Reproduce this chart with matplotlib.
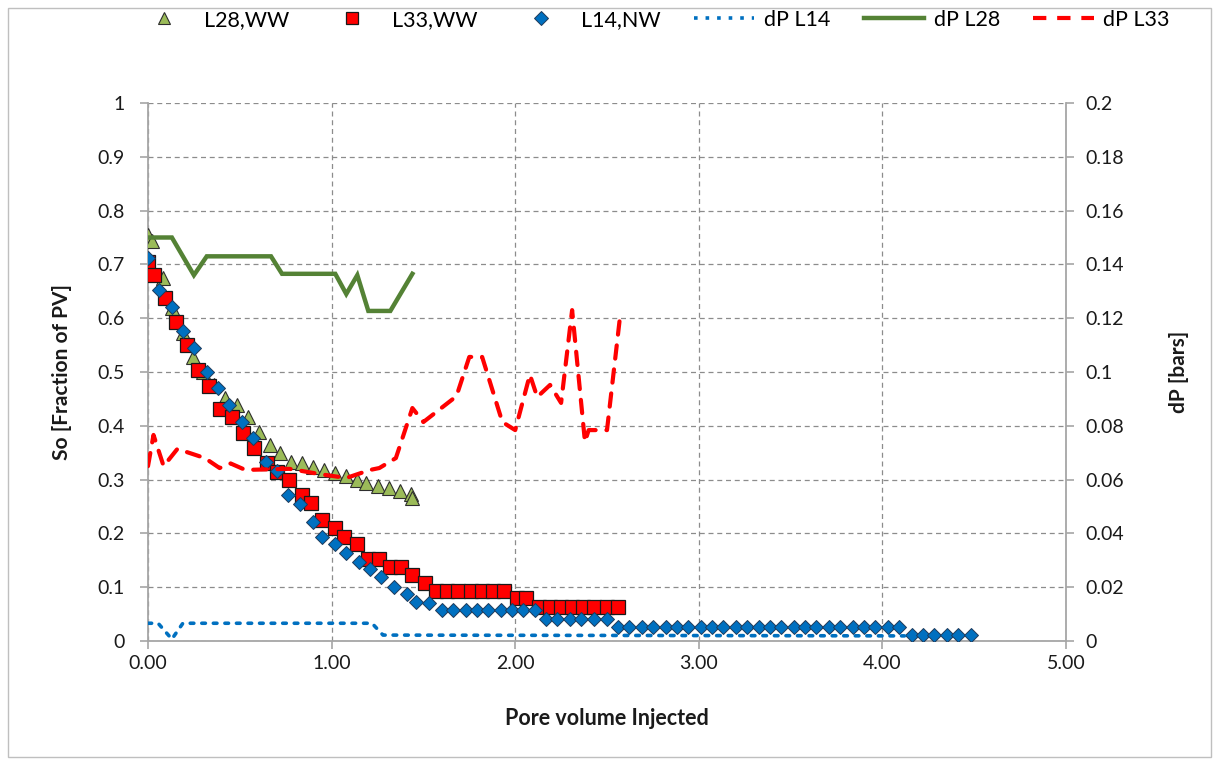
import matplotlib
matplotlib.use("Agg")
import matplotlib.pyplot as plt
from matplotlib.lines import Line2D
from matplotlib.patches import Rectangle

plt.rcParams['font.family'] = ['Lato', 'DejaVu Sans']

# ---- data ----
l28_x = [0.00, 0.02, 0.08, 0.13, 0.19, 0.245, 0.30, 0.36, 0.42, 0.485, 0.545, 0.605, 0.665,
         0.72, 0.78, 0.84, 0.90, 0.96, 1.02, 1.08, 1.14, 1.19, 1.25, 1.31, 1.37, 1.43, 1.44]
l28_y = [0.755, 0.743, 0.674, 0.619, 0.572, 0.528, 0.50, 0.475, 0.452, 0.439, 0.416, 0.388, 0.364,
         0.349, 0.333, 0.331, 0.323, 0.318, 0.312, 0.307, 0.299, 0.294, 0.288, 0.284, 0.279, 0.273, 0.266]

l33_x = [0.00, 0.03, 0.09, 0.15, 0.21, 0.27, 0.33, 0.39, 0.46, 0.52, 0.58, 0.65, 0.70, 0.77,
         0.84, 0.89, 0.95, 1.02, 1.07, 1.14, 1.20, 1.26, 1.32, 1.38, 1.44, 1.51, 1.57, 1.63,
         1.69, 1.76, 1.82, 1.88, 1.94, 2.01, 2.06, 2.13, 2.19, 2.25, 2.31, 2.37, 2.43, 2.50, 2.56]
l33_y = [0.704, 0.680, 0.638, 0.593, 0.550, 0.504, 0.474, 0.431, 0.416, 0.387, 0.359, 0.331, 0.314, 0.299,
         0.271, 0.256, 0.225, 0.210, 0.193, 0.180, 0.152, 0.152, 0.137, 0.137, 0.123, 0.108, 0.093, 0.093,
         0.093, 0.093, 0.093, 0.093, 0.093, 0.080, 0.080, 0.063, 0.063, 0.063, 0.063, 0.063, 0.063, 0.063, 0.063]

l14_x = [0.00, 0.06, 0.13, 0.19, 0.25, 0.32, 0.38, 0.44, 0.51, 0.57, 0.64, 0.70, 0.76, 0.83,
         0.90, 0.95, 1.02, 1.08, 1.15, 1.21, 1.27, 1.34, 1.41, 1.46, 1.53, 1.60,
         1.66, 1.73, 1.79, 1.85, 1.92, 1.98, 2.04, 2.11,
         2.17, 2.23, 2.30, 2.36, 2.43, 2.50,
         2.56, 2.62, 2.69, 2.75, 2.82, 2.88, 2.94, 3.01, 3.07, 3.13, 3.20, 3.26, 3.33, 3.39,
         3.45, 3.52, 3.58, 3.64, 3.71, 3.77, 3.84, 3.90, 3.96, 4.03, 4.09,
         4.16, 4.22, 4.28, 4.35, 4.41, 4.48]
l14_y = [0.712, 0.652, 0.621, 0.576, 0.545, 0.500, 0.470, 0.438, 0.407, 0.377, 0.333, 0.316, 0.271, 0.255,
         0.222, 0.193, 0.180, 0.164, 0.147, 0.134, 0.119, 0.100, 0.087, 0.073, 0.071, 0.058,
         0.058, 0.058, 0.058, 0.058, 0.058, 0.058, 0.058, 0.058,
         0.041, 0.041, 0.041, 0.041, 0.041, 0.041,
         0.026, 0.026, 0.026, 0.026, 0.026, 0.026, 0.026, 0.026, 0.026, 0.026, 0.026, 0.026, 0.026, 0.026,
         0.026, 0.026, 0.026, 0.026, 0.026, 0.026, 0.026, 0.026, 0.026, 0.026, 0.026,
         0.011, 0.011, 0.011, 0.011, 0.011, 0.011]

dp14_x = [0.00, 0.055, 0.13, 0.19, 1.22, 1.28, 4.12]
dp14_y = [0.0066, 0.0066, 0.0007, 0.0066, 0.0066, 0.0022, 0.0019]

dp28_x = [0.00, 0.13, 0.25, 0.32, 0.67, 0.73, 1.02, 1.08, 1.14, 1.20, 1.32, 1.44]
dp28_y = [0.150, 0.150, 0.136, 0.143, 0.143, 0.1365, 0.1365, 0.129, 0.136, 0.1227, 0.1227, 0.1365]

dp33_x = [0.00, 0.03, 0.085, 0.16, 0.31, 0.39, 0.45, 0.53, 0.77, 0.94, 1.08, 1.21, 1.26, 1.35,
          1.44, 1.50, 1.68, 1.75, 1.82, 1.93, 2.00, 2.08, 2.12, 2.19, 2.25, 2.31, 2.38, 2.40, 2.50, 2.57]
dp33_y = [0.065, 0.0766, 0.065, 0.0714, 0.068, 0.0643, 0.066, 0.0636, 0.064, 0.062, 0.0606, 0.0636, 0.0643, 0.068,
          0.0866, 0.0814, 0.091, 0.1056, 0.1056, 0.0814, 0.0784, 0.099, 0.0907, 0.0952, 0.0885, 0.123, 0.074, 0.0784, 0.0784, 0.120]

x_ticks = [0, 1, 2, 3, 4, 5]
x_ticklabels = ["0.00", "1.00", "2.00", "3.00", "4.00", "5.00"]
y_ticks = [0, 0.1, 0.2, 0.3, 0.4, 0.5, 0.6, 0.7, 0.8, 0.9, 1.0]
y_ticklabels = ["0", "0.1", "0.2", "0.3", "0.4", "0.5", "0.6", "0.7", "0.8", "0.9", "1"]
y2_ticks = [0, 0.02, 0.04, 0.06, 0.08, 0.10, 0.12, 0.14, 0.16, 0.18, 0.20]
y2_ticklabels = ["0", "0.02", "0.04", "0.06", "0.08", "0.1", "0.12", "0.14", "0.16", "0.18", "0.2"]

# ---- colors ----
c_tri = '#9BBB59'
c_sq = '#FF0000'
c_dia = '#0070C0'
c_green_line = '#548235'
c_red_line = '#FF0000'
c_blue_line = '#0070C0'
grid_c = '#8C8C8C'
spine_c = '#A6A6A6'

fig = plt.figure(figsize=(12.18, 7.62), dpi=100)
ax = fig.add_axes([148/1218, 1-641/762, (1066-148)/1218, (641-103)/762])
ax2 = ax.twinx()

# outer frame
fig.patches.append(Rectangle((8/1218, 5/762), 1203/1218, 749/762, transform=fig.transFigure,
                             fill=False, edgecolor='#BFBFBF', linewidth=1.0))

ax.set_xlim(0, 5)
ax.set_ylim(0, 1)
ax2.set_ylim(0, 0.2)

ax.grid(True, which='major', color=grid_c, linestyle=(0, (4, 3)), linewidth=0.9)
ax.set_axisbelow(True)

ax.plot(l28_x, l28_y, linestyle='none', marker='^', markersize=10, markerfacecolor=c_tri,
        markeredgecolor='#2E2E2E', markeredgewidth=0.8, zorder=3)
ax.plot(l33_x, l33_y, linestyle='none', marker='s', markersize=9.5, markerfacecolor=c_sq,
        markeredgecolor='#1A1A1A', markeredgewidth=0.9, zorder=4)
ax.plot(l14_x, l14_y, linestyle='none', marker='D', markersize=7.5, markerfacecolor=c_dia,
        markeredgecolor='#1F3A5A', markeredgewidth=0.7, zorder=5)

ax2.plot(dp14_x, dp14_y, color=c_blue_line, linestyle=(0, (1, 2.2)), linewidth=2.6, dash_capstyle='round')
ax2.plot(dp28_x, dp28_y, color=c_green_line, linestyle='-', linewidth=3.2, solid_joinstyle='miter')
ax2.plot(dp33_x, dp33_y, color=c_red_line, linestyle=(0, (3.2, 2.6)), linewidth=3.0, dash_capstyle='round')

for a in (ax, ax2):
    for s in a.spines.values():
        s.set_visible(False)
ax.spines['left'].set_visible(True)
ax.spines['bottom'].set_visible(True)
ax2.spines['right'].set_visible(True)
for s in (ax.spines['left'], ax.spines['bottom'], ax2.spines['right']):
    s.set_color(spine_c)
    s.set_linewidth(1.3)

ax.set_xticks(x_ticks)
ax.set_xticklabels(x_ticklabels)
ax.set_yticks(y_ticks)
ax.set_yticklabels(y_ticklabels)
ax2.set_yticks(y2_ticks)
ax2.set_yticklabels(y2_ticklabels)

ax.tick_params(axis='both', direction='out', length=6, width=1.2, color=spine_c,
               labelsize=14, labelcolor='#1A1A1A')
ax.tick_params(axis='x', pad=4)
ax.tick_params(axis='y', pad=11)
ax2.tick_params(axis='y', direction='out', length=6, width=1.2, color=spine_c,
                labelsize=14, labelcolor='#1A1A1A', pad=8)

ax.set_xlabel('Pore volume Injected', fontsize=15.5, fontweight='bold', labelpad=26, color='#1A1A1A')
ax.set_ylabel('So [Fraction of PV]', fontsize=15, fontweight='bold', labelpad=18, color='#1A1A1A')
ax2.set_ylabel('dP [bars]', fontsize=15, fontweight='bold', labelpad=32, color='#1A1A1A')

handles = [
    Line2D([], [], linestyle='none', marker='^', markersize=9, markerfacecolor=c_tri,
           markeredgecolor='#2E2E2E', markeredgewidth=0.8),
    Line2D([], [], linestyle='none', marker='s', markersize=8.5, markerfacecolor=c_sq,
           markeredgecolor='#1A1A1A', markeredgewidth=0.9),
    Line2D([], [], linestyle='none', marker='D', markersize=7, markerfacecolor=c_dia,
           markeredgecolor='#1F3A5A', markeredgewidth=0.7),
    Line2D([], [], color=c_blue_line, linestyle=(0, (1, 2.2)), linewidth=2.6),
    Line2D([], [], color=c_green_line, linestyle='-', linewidth=3.2),
    Line2D([], [], color=c_red_line, linestyle=(0, (3.2, 2.6)), linewidth=3.0),
]
labels = ['L28,WW', 'L33,WW', 'L14,NW', 'dP L14', 'dP L28', 'dP L33']
fig.legend(handles, labels, loc='center', bbox_to_anchor=(0.535, 0.974), ncol=6, frameon=False,
           fontsize=15.5, handlelength=2.8, columnspacing=1.55, handletextpad=0.45)

fig.savefig('out.png', dpi=100)
